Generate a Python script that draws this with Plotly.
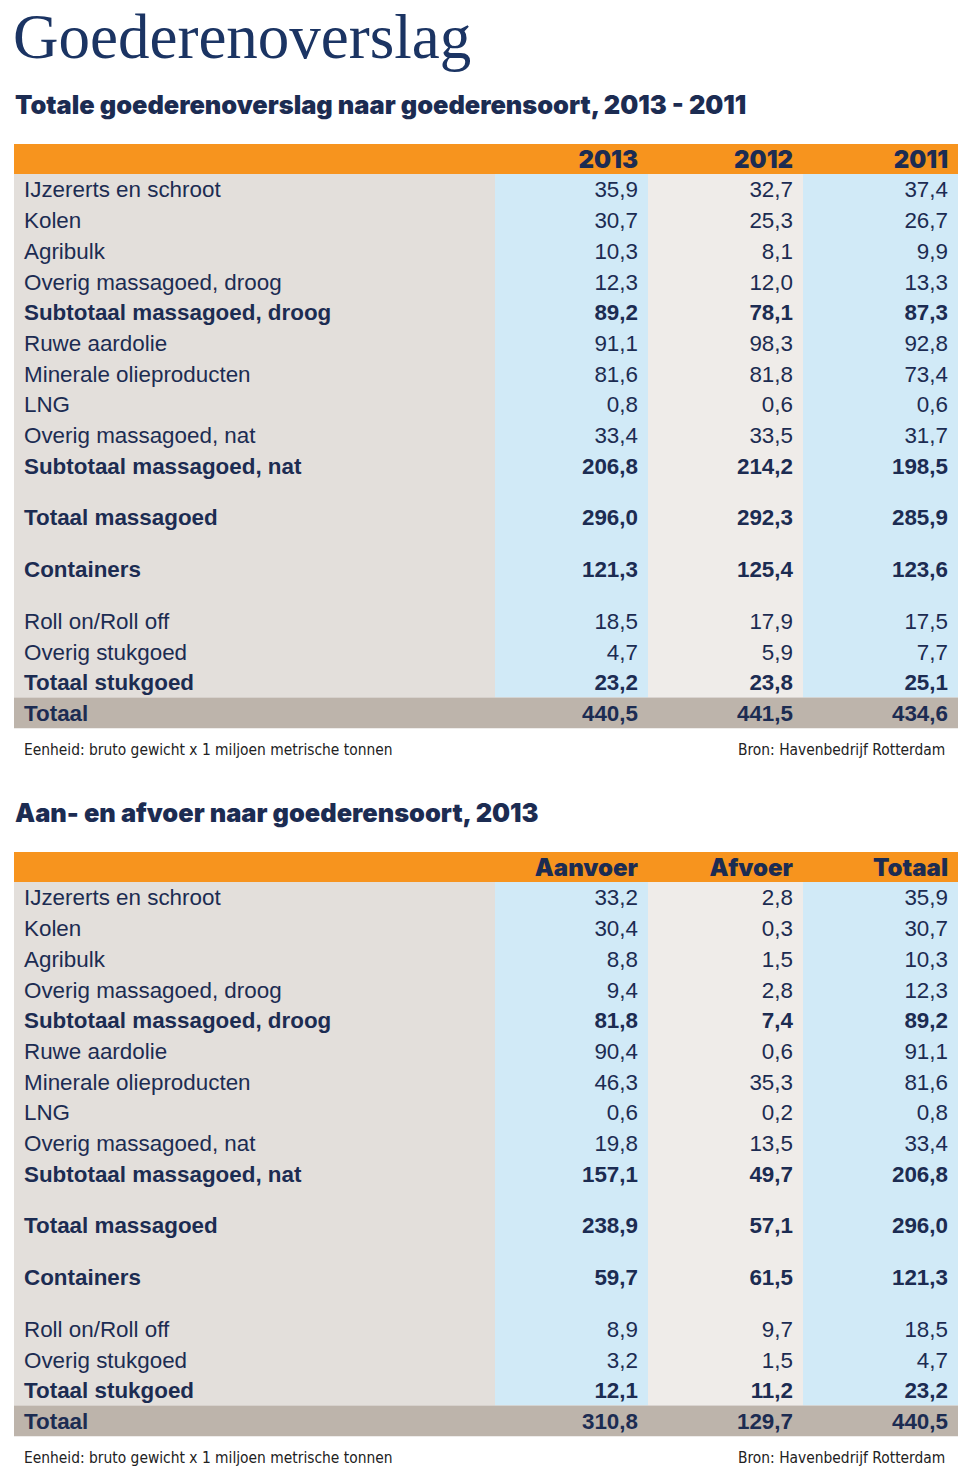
import plotly.graph_objects as go

# ---------------- data ----------------
title_text = "Goederenoverslag"
subtitle1 = "Totale goederenoverslag naar goederensoort, 2013 - 2011"
subtitle2 = "Aan- en afvoer naar goederensoort, 2013"
footer_left = "Eenheid: bruto gewicht x 1 miljoen metrische tonnen"
footer_right = "Bron: Havenbedrijf Rotterdam"

row_labels = ["IJzererts en schroot", "Kolen", "Agribulk", "Overig massagoed, droog",
              "Subtotaal massagoed, droog", "Ruwe aardolie", "Minerale olieproducten", "LNG",
              "Overig massagoed, nat", "Subtotaal massagoed, nat", "Totaal massagoed",
              "Containers", "Roll on/Roll off", "Overig stukgoed", "Totaal stukgoed", "Totaal"]
bold_rows = [4, 9, 10, 11, 14, 15]
gap_before = [10, 11, 12]

cols1 = ["2013", "2012", "2011"]
v2013 = [35.9, 30.7, 10.3, 12.3, 89.2, 91.1, 81.6, 0.8, 33.4, 206.8, 296.0, 121.3, 18.5, 4.7, 23.2, 440.5]
v2012 = [32.7, 25.3, 8.1, 12.0, 78.1, 98.3, 81.8, 0.6, 33.5, 214.2, 292.3, 125.4, 17.9, 5.9, 23.8, 441.5]
v2011 = [37.4, 26.7, 9.9, 13.3, 87.3, 92.8, 73.4, 0.6, 31.7, 198.5, 285.9, 123.6, 17.5, 7.7, 25.1, 434.6]

cols2 = ["Aanvoer", "Afvoer", "Totaal"]
aanvoer = [33.2, 30.4, 8.8, 9.4, 81.8, 90.4, 46.3, 0.6, 19.8, 157.1, 238.9, 59.7, 8.9, 3.2, 12.1, 310.8]
afvoer = [2.8, 0.3, 1.5, 2.8, 7.4, 0.6, 35.3, 0.2, 13.5, 49.7, 57.1, 61.5, 9.7, 1.5, 11.2, 129.7]
totaal = [35.9, 30.7, 10.3, 12.3, 89.2, 91.1, 81.6, 0.8, 33.4, 206.8, 296.0, 121.3, 18.5, 4.7, 23.2, 440.5]

# ---------------- styling / layout constants ----------------
W, H = 960, 1474
NAVY = "#1c2c52"
TITLE_C = "#1b3463"
ORANGE = "#f7941e"
LABEL_BG = "#e3dfdb"
BLUE_BG = "#d1eaf7"
GRAY_BG = "#efece9"
TOTAL_BG = "#bdb4ab"

SANS = "Liberation Sans, Arial, sans-serif"
HEAVY = "Inter, DejaVu Sans, sans-serif"
SERIF = "Liberation Serif, Times New Roman, serif"
NARROW = "Liberation Sans Narrow, DejaVu Sans Condensed, sans-serif"

X0, X1 = 14, 958
col_edges = [495, 648, 803, 958]
col_bgs = [BLUE_BG, GRAY_BG, BLUE_BG]
label_x = 24
num_pad = 10
header_h = 30
pitch = 30.7
gap = 21.0
text_dy = 2.5

fig = go.Figure()
shapes = []
annotations = []


def fmt(v):
    return f"{v:.1f}".replace(".", ",")


def row_center(top, i):
    n_gaps = sum(1 for g in gap_before if g <= i)
    return top + header_h + pitch * (i + 0.5) + gap * n_gaps


def add_table(offset, subtitle, col_names, series):
    sub_y = 104 + offset
    head_top = 144 + offset
    annotations.append(dict(x=X0 - 1, y=sub_y, xref="x", yref="y", text=subtitle, showarrow=False,
                            xanchor="left", yanchor="middle",
                            font=dict(family=HEAVY, size=25.4, color=NAVY, weight=900)))
    n = len(row_labels)
    last = n - 1
    body_bottom = row_center(head_top, last) - pitch / 2
    shapes.append(dict(type="rect", xref="x", yref="y", x0=X0, x1=X1, y0=head_top, y1=head_top + header_h,
                       fillcolor=ORANGE, line_width=0, layer="below"))
    shapes.append(dict(type="rect", xref="x", yref="y", x0=X0, x1=col_edges[0], y0=head_top + header_h,
                       y1=body_bottom, fillcolor=LABEL_BG, line_width=0, layer="below"))
    for j in range(3):
        shapes.append(dict(type="rect", xref="x", yref="y", x0=col_edges[j], x1=col_edges[j + 1],
                           y0=head_top + header_h, y1=body_bottom, fillcolor=col_bgs[j], line_width=0,
                           layer="below"))
    shapes.append(dict(type="rect", xref="x", yref="y", x0=X0, x1=X1, y0=body_bottom,
                       y1=body_bottom + pitch, fillcolor=TOTAL_BG, line_width=0, layer="below"))
    fig.add_trace(go.Scatter(x=[e - num_pad for e in col_edges[1:]], y=[head_top + header_h / 2 + text_dy] * 3,
                             mode="text", text=col_names, textposition="middle left",
                             textfont=dict(family=HEAVY, size=24, color=NAVY, weight=900),
                             hoverinfo="skip", showlegend=False))
    ys = [row_center(head_top, i) + text_dy for i in range(n)]
    for is_bold in (False, True):
        idx = [i for i in range(n) if (i in bold_rows) == is_bold]
        font = dict(family=SANS, size=22.4, color=NAVY, weight=700 if is_bold else 400)
        fig.add_trace(go.Scatter(x=[label_x] * len(idx), y=[ys[i] for i in idx], mode="text",
                                 text=[row_labels[i] for i in idx], textposition="middle right",
                                 textfont=font, hoverinfo="skip", showlegend=False))
        for j, vals in enumerate(series):
            fig.add_trace(go.Scatter(x=[col_edges[j + 1] - num_pad] * len(idx), y=[ys[i] for i in idx],
                                     mode="text", text=[fmt(vals[i]) for i in idx],
                                     textposition="middle left", textfont=font,
                                     hoverinfo="skip", showlegend=False))
    foot_y = body_bottom + pitch + 22
    annotations.append(dict(x=label_x - 2, y=foot_y, xref="x", yref="y", text=footer_left, showarrow=False,
                            xanchor="left", yanchor="middle",
                            font=dict(family=NARROW, size=15.4, color="#222222")))
    annotations.append(dict(x=X1 - 11, y=foot_y, xref="x", yref="y", text=footer_right, showarrow=False,
                            xanchor="right", yanchor="middle",
                            font=dict(family=NARROW, size=15.4, color="#222222")))


annotations.append(dict(x=12, y=0.5, xref="x", yref="y", text=title_text, showarrow=False,
                        xanchor="left", yanchor="top", borderpad=0,
                        font=dict(family=SERIF, size=63, color=TITLE_C)))

add_table(0, subtitle1, cols1, [v2013, v2012, v2011])
add_table(708, subtitle2, cols2, [aanvoer, afvoer, totaal])

fig.update_layout(
    width=W, height=H,
    margin=dict(l=0, r=0, t=0, b=0),
    paper_bgcolor="white", plot_bgcolor="white",
    xaxis=dict(range=[0, W], visible=False, fixedrange=True),
    yaxis=dict(range=[H, 0], visible=False, fixedrange=True),
    shapes=shapes, annotations=annotations,
    showlegend=False,
)

fig.write_html("out.html", config={"displayModeBar": False},
               post_script="document.body.style.margin='0';document.body.style.overflow='hidden';")
